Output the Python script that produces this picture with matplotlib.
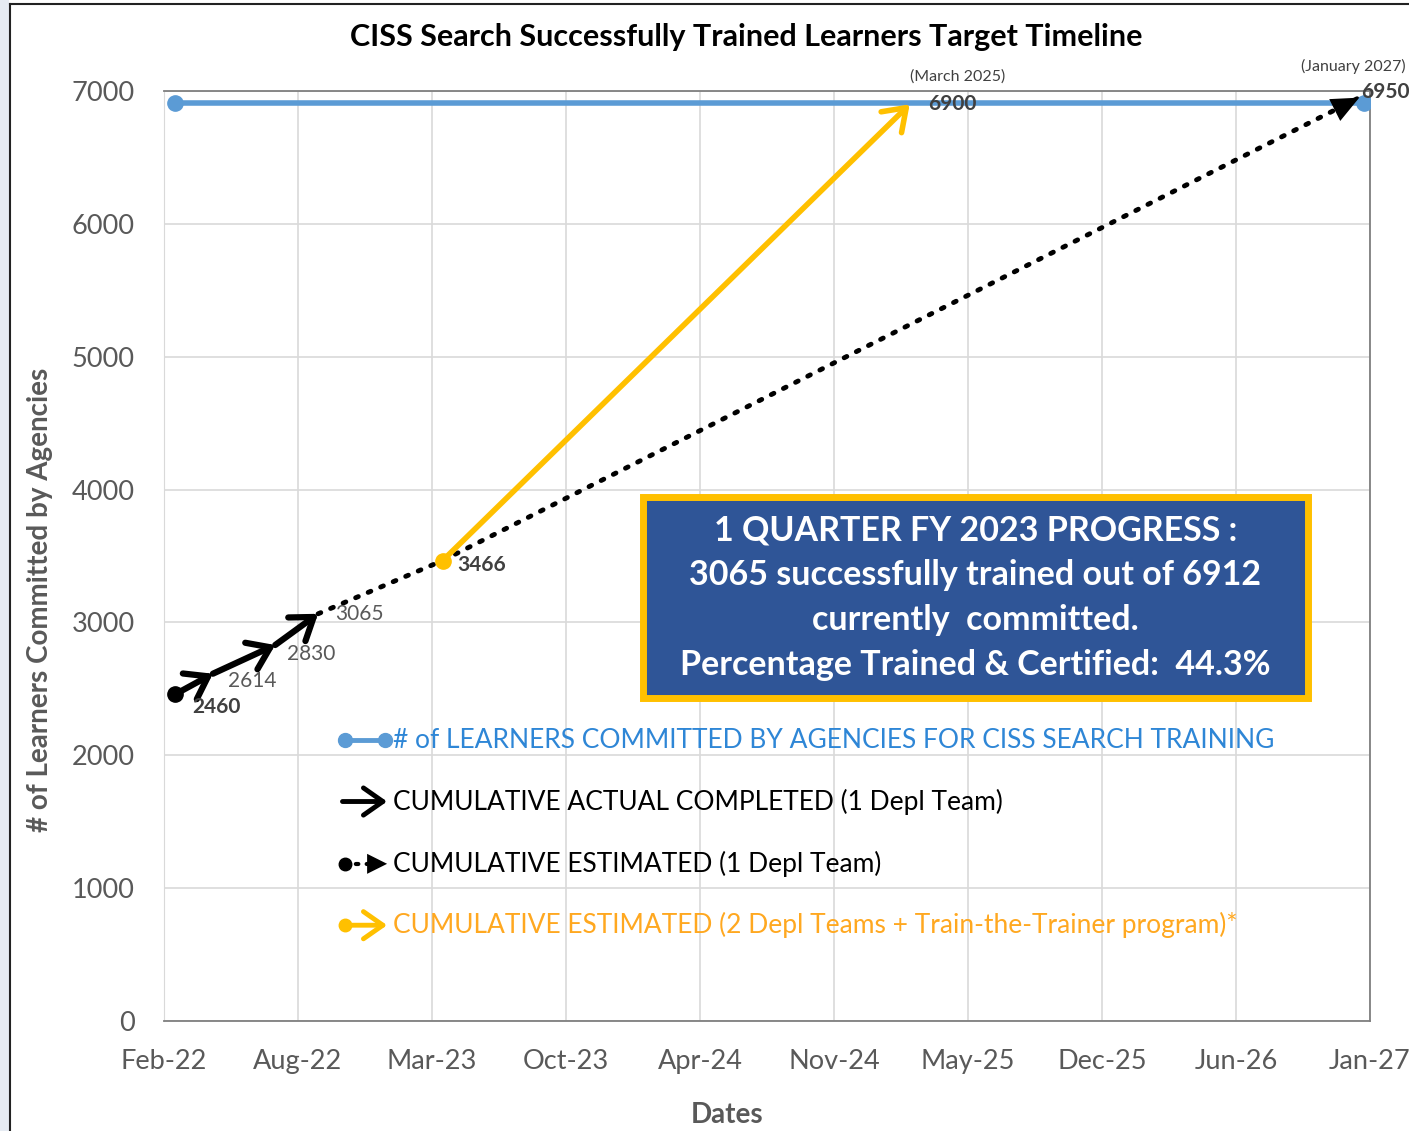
import matplotlib
matplotlib.use("Agg")
import matplotlib.pyplot as plt
import matplotlib.dates as mdates
from matplotlib.patches import Rectangle
from matplotlib.lines import Line2D
import pandas as pd

plt.rcParams['font.family'] = ['Lato', 'DejaVu Sans']

# Data
committed_dates = pd.to_datetime(['2022-02-25', '2027-01-04'])
committed_vals = [6912, 6912]

actual_dates = pd.to_datetime(['2022-02-25', '2022-04-22', '2022-07-24', '2022-09-26'])
actual_vals = [2460, 2614, 2830, 3065]

est1_dates = pd.to_datetime(['2022-09-26', '2023-03-31', '2026-12-28'])
est1_vals = [3065, 3466, 6950]

est2_dates = pd.to_datetime(['2023-03-31', '2025-02-25'])
est2_vals = [3466, 6900]

legend_labels = [
    '# of LEARNERS COMMITTED BY AGENCIES FOR CISS SEARCH TRAINING',
    'CUMULATIVE ACTUAL COMPLETED (1 Depl Team)',
    'CUMULATIVE ESTIMATED (1 Depl Team)',
    'CUMULATIVE ESTIMATED (2 Depl Teams + Train-the-Trainer program)*',
]
progress_lines = [
    '1 QUARTER FY 2023 PROGRESS :',
    '3065 successfully trained out of 6912',
    'currently  committed.',
    'Percentage Trained & Certified:  44.3%',
]

x_start = pd.Timestamp('2022-02-08')
tick_step_days = 200
n_ticks = 10

BLUE = '#5B9BD5'
YELLOW = '#FFC000'
ORANGE = '#FFA820'
GRAY = '#595959'
DARK = '#404040'

fig = plt.figure(figsize=(14.09, 11.31), dpi=100)
ax = fig.add_axes([164 / 1409, 1 - 1021 / 1131, (1370 - 164) / 1409, (1021 - 91) / 1131])

num = mdates.date2num

# committed line
ax.plot(committed_dates, committed_vals, color=BLUE, lw=4, marker='o', ms=11, zorder=4)

# actual completed: segments with open arrowheads
ax.plot(actual_dates[:1], actual_vals[:1], 'o', color='black', ms=11, zorder=6)
for i in range(len(actual_vals) - 1):
    ax.annotate('', xy=(num(actual_dates[i + 1]), actual_vals[i + 1]),
                xytext=(num(actual_dates[i]), actual_vals[i]),
                arrowprops=dict(arrowstyle='->,head_length=0.5,head_width=0.35', lw=4.5,
                                color='black', mutation_scale=30, shrinkA=0, shrinkB=0),
                zorder=6)

# estimated 1 team: dotted with filled arrow
ax.plot(est1_dates, est1_vals, color='black', lw=3.5, linestyle=(0, (0.6, 2.2)),
        dash_capstyle='round', zorder=3)
ax.annotate('', xy=(num(est1_dates[-1]), est1_vals[-1]),
            xytext=(num(est1_dates[-2]), est1_vals[-2]),
            arrowprops=dict(arrowstyle='-|>,head_length=0.9,head_width=0.4', lw=0,
                            color='black', mutation_scale=22, shrinkA=0, shrinkB=0), zorder=5)

# estimated 2 teams
ax.plot(est2_dates[:1], est2_vals[:1], 'o', color=YELLOW, ms=11, zorder=6)
ax.annotate('', xy=(num(est2_dates[-1]), est2_vals[-1]),
            xytext=(num(est2_dates[0]), est2_vals[0]),
            arrowprops=dict(arrowstyle='->,head_length=0.5,head_width=0.35', lw=4,
                            color=YELLOW, mutation_scale=30, shrinkA=0, shrinkB=0), zorder=5)

# data labels
lab_kw = dict(textcoords='offset pixels', fontsize=15, va='center', ha='left', zorder=7)
ax.annotate(str(actual_vals[0]), (num(actual_dates[0]), actual_vals[0]), xytext=(17, -13),
            color=DARK, fontweight='bold', **lab_kw)
for d, v, off in zip(actual_dates[1:], actual_vals[1:], [(15, -7), (12, -9), (17, 0)]):
    ax.annotate(str(v), (num(d), v), xytext=off, color=GRAY, **lab_kw)
ax.annotate(str(est1_vals[1]), (num(est1_dates[1]), est1_vals[1]), xytext=(15, -4),
            color=DARK, fontweight='bold', **lab_kw)
ax.annotate(str(est2_vals[1]), (num(est2_dates[1]), est2_vals[1]), xytext=(18, 0),
            color=DARK, fontweight='bold', **lab_kw)
ax.annotate('(March 2025)', (num(est2_dates[1]), est2_vals[1]), xytext=(48, 28),
            textcoords='offset pixels', fontsize=11.5, ha='center', va='center', color=DARK)
ax.annotate(str(est1_vals[2]), (num(est1_dates[2]), est1_vals[2]), xytext=(2, 6),
            color=DARK, fontweight='bold', annotation_clip=False, **lab_kw)
ax.annotate('(January 2027)', (num(est1_dates[2]), est1_vals[2]), xytext=(-58, 31),
            textcoords='offset pixels', fontsize=11.5, ha='left', va='center', color=DARK,
            annotation_clip=False)

# axes
ticks = [x_start + pd.Timedelta(days=tick_step_days * k) for k in range(n_ticks)]
ax.set_xlim(ticks[0], ticks[-1])
ax.set_xticks(ticks)
ax.xaxis.set_major_formatter(mdates.DateFormatter('%b-%y'))
ax.set_ylim(0, 7000)
ax.set_yticks(range(0, 7001, 1000))
ax.tick_params(axis='both', length=0, labelsize=19.5, labelcolor=GRAY)
ax.tick_params(axis='x', pad=20)
ax.tick_params(axis='y', pad=21)
ax.grid(True, color='#D9D9D9', lw=1.2)
ax.set_axisbelow(True)
for side in ['top', 'right', 'bottom']:
    ax.spines[side].set_color('#7F7F7F')
    ax.spines[side].set_linewidth(1.3)
ax.spines['left'].set_color('#D9D9D9')

# legend drawn by hand
leg_y = [0.302, 0.236, 0.169, 0.103]
leg_colors = ['#2E86D6', 'black', 'black', ORANGE]
x0, x1, xt = 0.150, 0.185, 0.190
ax.plot([x0, x1 - 0.002], [leg_y[0]] * 2, transform=ax.transAxes, color=BLUE, lw=3.5,
        marker='o', ms=10, clip_on=False)
ax.annotate('', xy=(x1, leg_y[1]), xytext=(x0 - 0.002, leg_y[1]), xycoords='axes fraction',
            arrowprops=dict(arrowstyle='->,head_length=0.5,head_width=0.35', lw=3.5,
                            color='black', mutation_scale=28, shrinkA=0, shrinkB=0))
ax.plot([x0, x1 - 0.012], [leg_y[2]] * 2, transform=ax.transAxes, color='black', lw=3,
        linestyle=(0, (0.6, 2.0)), dash_capstyle='round')
ax.plot([x0], [leg_y[2]], 'o', transform=ax.transAxes, color='black', ms=9)
ax.annotate('', xy=(x1, leg_y[2]), xytext=(x0 + 0.012, leg_y[2]), xycoords='axes fraction',
            arrowprops=dict(arrowstyle='-|>,head_length=0.9,head_width=0.45', lw=0,
                            color='black', mutation_scale=16, shrinkA=0, shrinkB=0))
ax.plot([x0], [leg_y[3]], 'o', transform=ax.transAxes, color=YELLOW, ms=9)
ax.annotate('', xy=(x1, leg_y[3]), xytext=(x0, leg_y[3]), xycoords='axes fraction',
            arrowprops=dict(arrowstyle='->,head_length=0.5,head_width=0.35', lw=3.5,
                            color=YELLOW, mutation_scale=28, shrinkA=0, shrinkB=0))
for y, lab, c in zip(leg_y, legend_labels, leg_colors):
    ax.text(xt, y, lab, transform=ax.transAxes, fontsize=19, color=c, va='center', ha='left')

# progress box
bx0, by0 = (643 - 164) / 1206, (1021 - 698) / 930
bw, bh = (1308 - 643) / 1206, (698 - 497) / 930
ax.add_patch(Rectangle((bx0, by0), bw, bh, transform=ax.transAxes, facecolor='#2F5597',
                       edgecolor=YELLOW, lw=5, zorder=8))
ax.text(bx0 + bw / 2, by0 + bh / 2, '\n'.join(progress_lines), transform=ax.transAxes,
        ha='center', va='center', color='white', fontsize=24.5, fontweight='bold',
        linespacing=1.5, zorder=9)

# titles
fig.text(746 / 1409, 1 - 37 / 1131, 'CISS Search Successfully Trained Learners Target Timeline',
         ha='center', va='center', fontsize=22, fontweight='bold', color='black')
fig.text(727 / 1409, 1 - 1115 / 1131, 'Dates', ha='center', va='center', fontsize=20,
         fontweight='bold', color=GRAY)
fig.text(40 / 1409, 1 - 600 / 1131, '# of Learners Committed by Agencies', ha='center',
         va='center', rotation=90, fontsize=20, fontweight='bold', color=GRAY)

# outer frame
fig.add_artist(Rectangle((0, 0), 9 / 1409, 1, transform=fig.transFigure,
                         facecolor='#E6EBF2', edgecolor='none'))
fig.add_artist(Line2D([10 / 1409, 10 / 1409], [0, 1 - 4 / 1131], transform=fig.transFigure,
                      color='#222222', lw=1.5))
fig.add_artist(Line2D([10 / 1409, 1], [1 - 4 / 1131, 1 - 4 / 1131], transform=fig.transFigure,
                      color='#222222', lw=1.5))

fig.savefig('out.png', dpi=100)
